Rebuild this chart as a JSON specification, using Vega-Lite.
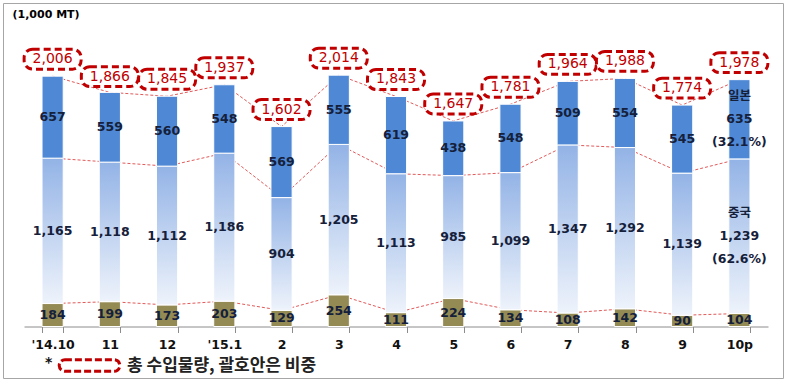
{
  "$schema": "https://vega.github.io/schema/vega-lite/v6.json",
  "width": 780,
  "height": 375,
  "autosize": "none",
  "padding": {"left": 3, "top": 3, "right": 3, "bottom": 7},
  "background": "white",
  "config": {
    "view": {"stroke": "#A6A6A6", "strokeWidth": 1, "fill": "white"},
    "axisX": {
      "offset": -51.5, "tickBand": "extent", "domainColor": "#8C8C8C", "tickColor": "#8C8C8C",
      "tickSize": 6, "labelFont": "DejaVu Sans", "labelFontSize": 12.5, "labelFontWeight": "bold",
      "labelColor": "#111111", "labelPadding": 6, "labelAngle": 0, "grid": false
    },
    "axisY": {
      "domain": false, "ticks": false, "labels": false, "grid": false, "titleAngle": 0,
      "titleX": 9, "titleY": 11, "titleAlign": "left", "titleBaseline": "middle",
      "titleFont": "DejaVu Sans", "titleFontSize": 11, "titleFontWeight": "bold", "titleColor": "#000000"
    }
  },
  "datasets": {
    "segments": [
      {"month": "'14.10", "series": "other", "ord": 1, "value": 184, "label": "184"},
      {"month": "'14.10", "series": "china", "ord": 2, "value": 1165, "label": "1,165"},
      {"month": "'14.10", "series": "japan", "ord": 3, "value": 657, "label": "657"},
      {"month": "11", "series": "other", "ord": 1, "value": 199, "label": "199"},
      {"month": "11", "series": "china", "ord": 2, "value": 1118, "label": "1,118"},
      {"month": "11", "series": "japan", "ord": 3, "value": 559, "label": "559"},
      {"month": "12", "series": "other", "ord": 1, "value": 173, "label": "173"},
      {"month": "12", "series": "china", "ord": 2, "value": 1112, "label": "1,112"},
      {"month": "12", "series": "japan", "ord": 3, "value": 560, "label": "560"},
      {"month": "'15.1", "series": "other", "ord": 1, "value": 203, "label": "203"},
      {"month": "'15.1", "series": "china", "ord": 2, "value": 1186, "label": "1,186"},
      {"month": "'15.1", "series": "japan", "ord": 3, "value": 548, "label": "548"},
      {"month": "2", "series": "other", "ord": 1, "value": 129, "label": "129"},
      {"month": "2", "series": "china", "ord": 2, "value": 904, "label": "904"},
      {"month": "2", "series": "japan", "ord": 3, "value": 569, "label": "569"},
      {"month": "3", "series": "other", "ord": 1, "value": 254, "label": "254"},
      {"month": "3", "series": "china", "ord": 2, "value": 1205, "label": "1,205"},
      {"month": "3", "series": "japan", "ord": 3, "value": 555, "label": "555"},
      {"month": "4", "series": "other", "ord": 1, "value": 111, "label": "111"},
      {"month": "4", "series": "china", "ord": 2, "value": 1113, "label": "1,113"},
      {"month": "4", "series": "japan", "ord": 3, "value": 619, "label": "619"},
      {"month": "5", "series": "other", "ord": 1, "value": 224, "label": "224"},
      {"month": "5", "series": "china", "ord": 2, "value": 985, "label": "985"},
      {"month": "5", "series": "japan", "ord": 3, "value": 438, "label": "438"},
      {"month": "6", "series": "other", "ord": 1, "value": 134, "label": "134"},
      {"month": "6", "series": "china", "ord": 2, "value": 1099, "label": "1,099"},
      {"month": "6", "series": "japan", "ord": 3, "value": 548, "label": "548"},
      {"month": "7", "series": "other", "ord": 1, "value": 108, "label": "108"},
      {"month": "7", "series": "china", "ord": 2, "value": 1347, "label": "1,347"},
      {"month": "7", "series": "japan", "ord": 3, "value": 509, "label": "509"},
      {"month": "8", "series": "other", "ord": 1, "value": 142, "label": "142"},
      {"month": "8", "series": "china", "ord": 2, "value": 1292, "label": "1,292"},
      {"month": "8", "series": "japan", "ord": 3, "value": 554, "label": "554"},
      {"month": "9", "series": "other", "ord": 1, "value": 90, "label": "90"},
      {"month": "9", "series": "china", "ord": 2, "value": 1139, "label": "1,139"},
      {"month": "9", "series": "japan", "ord": 3, "value": 545, "label": "545"},
      {"month": "10p", "series": "other", "ord": 1, "value": 104, "label": "104"},
      {"month": "10p", "series": "china", "ord": 2, "value": 1239, "label": "중국\n1,239\n(62.6%)"},
      {"month": "10p", "series": "japan", "ord": 3, "value": 635, "label": "일본\n635\n(32.1%)"}
    ],
    "totals": [
      {"month": "'14.10", "total": 2006, "label": "2,006"},
      {"month": "11", "total": 1866, "label": "1,866"},
      {"month": "12", "total": 1845, "label": "1,845"},
      {"month": "'15.1", "total": 1937, "label": "1,937"},
      {"month": "2", "total": 1602, "label": "1,602"},
      {"month": "3", "total": 2014, "label": "2,014"},
      {"month": "4", "total": 1843, "label": "1,843"},
      {"month": "5", "total": 1647, "label": "1,647"},
      {"month": "6", "total": 1781, "label": "1,781"},
      {"month": "7", "total": 1964, "label": "1,964"},
      {"month": "8", "total": 1988, "label": "1,988"},
      {"month": "9", "total": 1774, "label": "1,774"},
      {"month": "10p", "total": 1978, "label": "1,978"}
    ]
  },
  "layer": [
    {
      "data": {"name": "segments"},
      "transform": [
        {"stack": "value", "groupby": ["month"], "sort": [{"field": "ord", "order": "ascending"}], "as": ["v0", "v1"]},
        {"calculate": "(datum.v0 + datum.v1) / 2", "as": "mid"}
      ],
      "layer": [
        {
          "mark": {"type": "line", "stroke": "#E25A5A", "strokeWidth": 1, "strokeDash": [3, 2]},
          "encoding": {
            "x": {"field": "month", "type": "ordinal", "title": null,
              "scale": {"domain": ["'14.10", "11", "12", "'15.1", "2", "3", "4", "5", "6", "7", "8", "9", "10p"], "range": [21, 765], "paddingInner": 0.63, "paddingOuter": 0.315}},
            "y": {"field": "v1", "type": "quantitative", "title": "(1,000 MT)", "scale": {"domain": [0, 2500], "range": [323.5, 11.5], "nice": false}},
            "detail": {"field": "series"}
          }
        },
        {
          "transform": [{"filter": "datum.series === 'other'"}],
          "mark": {"type": "bar", "fill": "#948A54", "stroke": "white", "strokeWidth": 1},
          "encoding": {
            "x": {"field": "month", "type": "ordinal", "title": null},
            "y": {"field": "v0", "type": "quantitative", "title": "(1,000 MT)"},
            "y2": {"field": "v1"}
          }
        },
        {
          "transform": [{"filter": "datum.series === 'china'"}],
          "mark": {"type": "bar", "stroke": "white", "strokeWidth": 1,
            "fill": {"gradient": "linear", "x1": 0, "y1": 0, "x2": 0, "y2": 1,
              "stops": [{"offset": 0, "color": "#93B3E6"}, {"offset": 1, "color": "#EEF3FB"}]}},
          "encoding": {
            "x": {"field": "month", "type": "ordinal", "title": null},
            "y": {"field": "v0", "type": "quantitative", "title": "(1,000 MT)"},
            "y2": {"field": "v1"}
          }
        },
        {
          "transform": [{"filter": "datum.series === 'japan'"}],
          "mark": {"type": "bar", "fill": "#4F89D5", "stroke": "white", "strokeWidth": 1},
          "encoding": {
            "x": {"field": "month", "type": "ordinal", "title": null},
            "y": {"field": "v0", "type": "quantitative", "title": "(1,000 MT)"},
            "y2": {"field": "v1"}
          }
        },
        {
          "transform": [{"filter": "datum.month !== '10p' || datum.series === 'other'"}],
          "mark": {"type": "text", "font": "DejaVu Sans", "fontSize": 12.5, "fontWeight": "bold",
            "color": "#15203A", "baseline": "middle", "align": "center"},
          "encoding": {
            "x": {"field": "month", "type": "ordinal", "title": null},
            "y": {"field": "mid", "type": "quantitative", "title": "(1,000 MT)"},
            "text": {"field": "label", "type": "nominal"}
          }
        },
        {
          "transform": [{"filter": "datum.month === '10p' && datum.series !== 'other'"}],
          "mark": {"type": "text", "font": "DejaVu Sans, Noto Sans CJK KR", "fontSize": 12.5, "fontWeight": "bold",
            "color": "#15203A", "lineBreak": "\n", "lineHeight": 23, "baseline": "middle", "align": "center", "yOffset": -23},
          "encoding": {
            "x": {"field": "month", "type": "ordinal", "title": null},
            "y": {"field": "mid", "type": "quantitative", "title": "(1,000 MT)"},
            "text": {"field": "label", "type": "nominal"}
          }
        }
      ]
    },
    {
      "data": {"name": "totals"},
      "layer": [
        {
          "mark": {"type": "point",
            "shape": "M -0.7 -0.35 L 0.7 -0.35 A 0.3 0.3 0 0 1 1 -0.05 L 1 0.05 A 0.3 0.3 0 0 1 0.7 0.35 L -0.7 0.35 A 0.3 0.3 0 0 1 -1 0.05 L -1 -0.05 A 0.3 0.3 0 0 1 -0.7 -0.35 Z",
            "size": 3249, "filled": true, "fill": "white", "opacity": 1, "strokeWidth": 3, "strokeDash": [7, 4], "yOffset": -17},
          "encoding": {
            "x": {"field": "month", "type": "ordinal", "title": null},
            "y": {"field": "total", "type": "quantitative", "title": "(1,000 MT)"},
            "stroke": {"datum": "총 수입물량, 괄호안은 비중", "scale": {"range": ["#C00000"]},
              "legend": {
                "orient": "none", "legendX": 42, "legendY": 331, "padding": 0,
                "title": "*", "titleOrient": "left", "titleAnchor": "middle", "titleFont": "DejaVu Sans", "titleFontSize": 14, "titleFontWeight": "bold",
                "titleColor": "#111111", "titlePadding": 5, "titleBaseline": "top",
                "symbolType": "M -0.82 -0.19 L 0.82 -0.19 A 0.19 0.19 0 0 1 0.82 0.19 L -0.82 0.19 A 0.19 0.19 0 0 1 -0.82 -0.19 Z",
                "symbolSize": 3600, "symbolStrokeWidth": 3, "symbolDash": [7, 3], "symbolFillColor": "white",
                "symbolStrokeColor": "#C00000", "symbolOpacity": 1,
                "labelFont": "Noto Sans CJK KR", "labelFontSize": 17, "labelFontWeight": "bold", "labelColor": "#222222",
                "labelLimit": 400, "labelOffset": 6
              }}
          }
        },
        {
          "mark": {"type": "text", "font": "DejaVu Sans", "fontSize": 14, "color": "#C00000", "baseline": "middle", "align": "center", "yOffset": -17},
          "encoding": {
            "x": {"field": "month", "type": "ordinal", "title": null},
            "y": {"field": "total", "type": "quantitative", "title": "(1,000 MT)"},
            "text": {"field": "label", "type": "nominal"}
          }
        }
      ]
    }
  ]
}
